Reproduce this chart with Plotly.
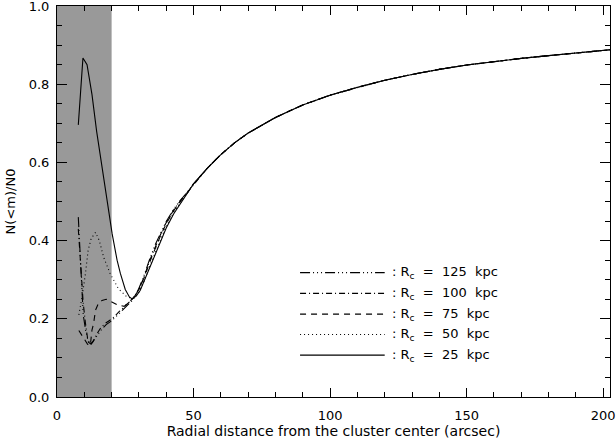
import plotly.graph_objects as go

# ---- data ----
tail_x = [50, 55, 60, 65, 70, 80, 90, 100, 110, 120, 130, 140, 150, 160, 170, 180, 190, 200, 202.5]
tail_y = [0.545, 0.585, 0.620, 0.650, 0.675, 0.715, 0.747, 0.772, 0.792, 0.810, 0.825, 0.838,
          0.849, 0.858, 0.866, 0.873, 0.880, 0.886, 0.888]

rc25_x = [7.8, 9.5, 11.0, 12.8, 14.5, 16.5, 18.5, 20.2, 22, 23.2, 25, 26.5, 27.5, 29, 30.5, 32,
          34.2, 36, 38, 40, 42.7, 45, 47.6]
rc25_y = [0.696, 0.867, 0.850, 0.774, 0.68, 0.587, 0.50, 0.417, 0.35, 0.316, 0.275, 0.256, 0.251,
          0.258, 0.273, 0.298, 0.332, 0.365, 0.40, 0.432, 0.468, 0.494, 0.52]

rc50_x = [8, 9.2, 10.4, 11.4, 12.5, 14.1, 15.5, 17.1, 19.5, 22.5, 25.6, 27.8, 30, 32, 34, 36, 38,
          40, 42.7, 45, 47.6]
rc50_y = [0.21, 0.256, 0.315, 0.375, 0.405, 0.421, 0.40, 0.357, 0.315, 0.277, 0.256, 0.252, 0.268,
          0.298, 0.335, 0.37, 0.405, 0.437, 0.472, 0.496, 0.52]

rc75_x = [8, 9.8, 11.2, 12.2, 12.8, 13.4, 14.1, 15.2, 16.5, 18, 20.2, 22, 24.6, 27.5, 30, 32, 34,
          36, 38, 40, 42.7, 45, 47.6]
rc75_y = [0.17, 0.15, 0.135, 0.132, 0.171, 0.188, 0.222, 0.24, 0.247, 0.25, 0.243, 0.236, 0.232,
          0.25, 0.275, 0.307, 0.346, 0.382, 0.414, 0.443, 0.476, 0.499, 0.521]

rc100_x = [7.8, 8.4, 9.0, 9.6, 10.4, 11.2, 12, 13, 14.5, 16.1, 18, 20.2, 23, 26, 28, 30, 32, 34,
           36, 38, 40, 42.7, 45, 47.6]
rc100_y = [0.43, 0.36, 0.30, 0.24, 0.19, 0.15, 0.135, 0.14, 0.16, 0.178, 0.19, 0.2, 0.22, 0.24,
           0.253, 0.275, 0.309, 0.35, 0.386, 0.417, 0.446, 0.478, 0.5, 0.522]

rc125_x = [7.8, 8.2, 8.6, 9.0, 9.6, 10.5, 11.5, 12.5, 14, 16, 18, 20, 23, 26, 28, 30, 32, 34, 36,
           38, 40, 42.7, 45, 47.6]
rc125_y = [0.46, 0.40, 0.33, 0.26, 0.21, 0.17, 0.14, 0.135, 0.15, 0.17, 0.185, 0.195, 0.215,
           0.235, 0.25, 0.278, 0.313, 0.354, 0.39, 0.42, 0.449, 0.48, 0.502, 0.523]

legend_labels = ["125", "100", "75", "50", "25"]
legend_y = [0.318, 0.265, 0.212, 0.160, 0.107]
legend_line_x = [89, 120]
legend_text_x = 122
shade_x = [0, 20]

series = [
    (rc125_x, rc125_y, "10px,3px,1px,3px,1px,3px,1px,3px"),
    (rc100_x, rc100_y, "6px,3px,1px,3px"),
    (rc75_x, rc75_y, "6px,5px"),
    (rc50_x, rc50_y, "1px,3px"),
    (rc25_x, rc25_y, "solid"),
]

FONT = "DejaVu Sans"
NB = "\u00a0"

fig = go.Figure()
fig.add_shape(type="rect", xref="x", yref="y", x0=shade_x[0], x1=shade_x[1], y0=0, y1=1,
              fillcolor="#999999", line=dict(width=0), layer="below")

for (xs, ys, dash), lab, ly in zip(series, legend_labels, legend_y):
    fig.add_trace(go.Scatter(x=xs + tail_x, y=ys + tail_y, mode="lines",
                             line=dict(color="black", width=1.1, dash=dash),
                             showlegend=False, hoverinfo="skip"))
    fig.add_trace(go.Scatter(x=legend_line_x, y=[ly, ly], mode="lines",
                             line=dict(color="black", width=1.1, dash=dash),
                             showlegend=False, hoverinfo="skip"))
    fig.add_annotation(x=legend_text_x, y=ly, xref="x", yref="y", xanchor="left",
                       yanchor="middle", showarrow=False,
                       text=":" + NB + "R<sub>c</sub>" + NB + NB + "=" + NB + NB + lab + NB + NB + "kpc",
                       font=dict(family=FONT, size=13, color="black"))

# invisible trace so the mirror axes (top/right) are drawn
fig.add_trace(go.Scatter(x=[None], y=[None], xaxis="x2", yaxis="y2", showlegend=False,
                         hoverinfo="skip"))

tickfont = dict(family=FONT, size=13, color="black")
common = dict(showline=True, linecolor="black", linewidth=1, ticks="inside", tickcolor="black",
              showgrid=False, zeroline=False, tickfont=tickfont, automargin=False)

XR = [0, 202.5]
YR = [0, 1.0]

fig.update_layout(
    xaxis=dict(range=XR, tick0=0, dtick=50, ticklen=9, ticklabelstandoff=6,
               ticklabeloverflow="allow",
               minor=dict(ticks="inside", dtick=10, ticklen=5, tickcolor="black"),
               title=dict(text="Radial distance from the cluster center (arcsec)",
                          font=dict(family=FONT, size=14, color="black"), standoff=2),
               **common),
    yaxis=dict(range=YR, tickmode="array", tickvals=[0, 0.2, 0.4, 0.6, 0.8, 1.0],
               ticktext=["0.0", "0.2", "0.4", "0.6", "0.8", "1.0"], ticklen=10,
               ticklabelstandoff=4, ticklabeloverflow="allow",
               minor=dict(ticks="inside", dtick=0.05, ticklen=5, tickcolor="black"),
               title=dict(text="N(<m)/N0", font=dict(family=FONT, size=13, color="black"),
                          standoff=10),
               **common),
    xaxis2=dict(range=XR, overlaying="x", side="top", anchor="y", tick0=0, dtick=50, ticklen=9,
                showticklabels=False,
                minor=dict(ticks="inside", dtick=10, ticklen=5, tickcolor="black"), **common),
    yaxis2=dict(range=YR, overlaying="y", side="right", anchor="x", tick0=0, dtick=0.2,
                ticklen=10, showticklabels=False,
                minor=dict(ticks="inside", dtick=0.05, ticklen=5, tickcolor="black"), **common),
    width=616, height=442, margin=dict(l=57, r=6, t=6, b=45),
    plot_bgcolor="white", paper_bgcolor="white",
)

fig.write_html("out.html")
